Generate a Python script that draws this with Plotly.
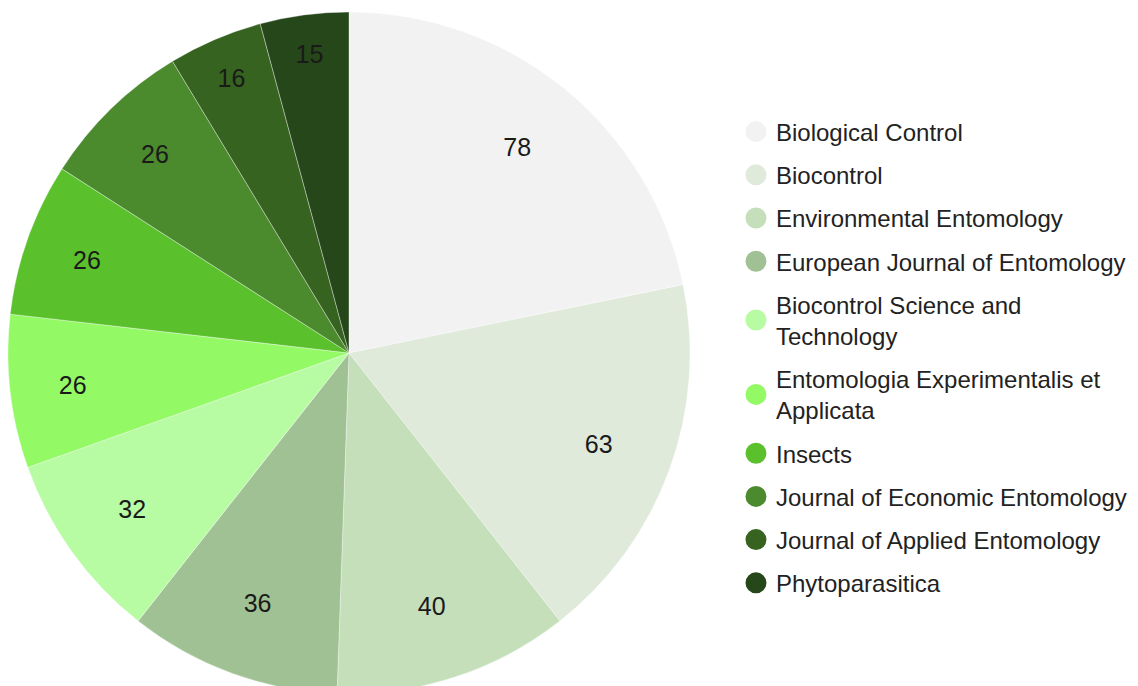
import plotly.graph_objects as go

journals = [
    "Biological Control",
    "Biocontrol",
    "Environmental Entomology",
    "European Journal of Entomology",
    "Biocontrol Science and<br>Technology",
    "Entomologia Experimentalis et<br>Applicata",
    "Insects",
    "Journal of Economic Entomology",
    "Journal of Applied Entomology",
    "Phytoparasitica",
]
counts = [78, 63, 40, 36, 32, 26, 26, 26, 16, 15]
colors = ["#f2f2f2", "#dfeadb", "#c5dfbb", "#a0c193", "#b7fba3",
          "#93fa66", "#5ac12c", "#4b8a2d", "#36631f", "#254719"]

FONT = "Liberation Sans, Arial, sans-serif"
dom = dict(x=[0, 682 / 1138], y=[0, 1])

fig = go.Figure()
# filled pie
fig.add_trace(go.Pie(
    labels=journals, values=counts, sort=False, direction="clockwise", rotation=0,
    marker=dict(colors=colors, line=dict(color="rgba(255,255,255,0.6)", width=0.6)),
    textinfo="none", showlegend=False, domain=dom, hoverinfo="label+value",
))
# label ring (transparent) so value labels sit near the outer part of each slice
fig.add_trace(go.Pie(
    labels=journals, values=counts, sort=False, direction="clockwise", rotation=0,
    hole=0.56, marker=dict(colors=["rgba(0,0,0,0)"] * len(counts), line=dict(width=0)),
    textinfo="value", textposition="inside", insidetextorientation="horizontal",
    textfont=dict(family=FONT, size=25, color="#1a1a1a"),
    showlegend=False, domain=dom, hoverinfo="skip",
))
# legend entries with circle markers
for name, col in zip(journals, colors):
    fig.add_trace(go.Scatter(
        x=[None], y=[None], mode="markers", name=name, legendgroup=name,
        marker=dict(symbol="circle", size=16, color=col, line=dict(color=col, width=5)),
    ))

fig.update_layout(
    width=1138, height=686,
    margin=dict(l=0, r=0, t=4, b=0),
    paper_bgcolor="white", plot_bgcolor="white",
    xaxis=dict(visible=False), yaxis=dict(visible=False),
    legend=dict(
        x=0.6397, xanchor="left", y=0.4934, yanchor="middle",
        font=dict(family=FONT, size=24, color="#222222"),
        tracegroupgap=9, bgcolor="rgba(0,0,0,0)",
    ),
    uniformtext=dict(minsize=10, mode="show"),
)
fig.write_html("out.html")
